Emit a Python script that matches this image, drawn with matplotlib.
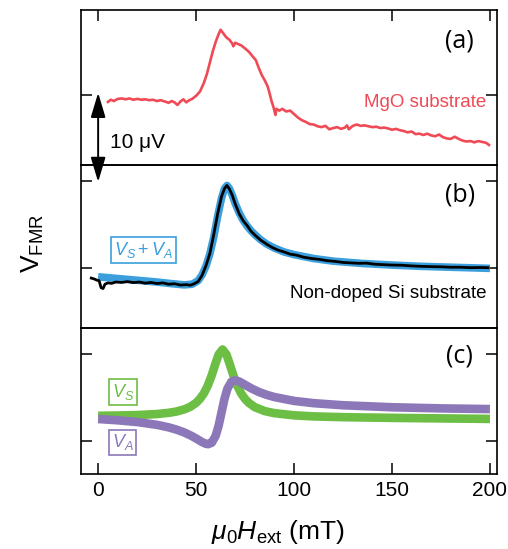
import matplotlib
matplotlib.use('Agg')
import matplotlib.pyplot as plt

plt.rcParams['font.family'] = ['Liberation Sans', 'DejaVu Sans']
plt.rcParams['mathtext.fontset'] = 'custom'
plt.rcParams['mathtext.rm'] = 'Liberation Sans'
plt.rcParams['mathtext.it'] = 'Liberation Sans:italic'

# (a) MgO substrate, measured V_FMR (uV) vs field (mT)
h_mgo = [5, 6.5, 8, 10, 12, 14, 16, 18, 20, 22, 24, 26, 28, 30, 32, 34, 36, 37.5, 39, 40.5,
         42, 43.5, 45, 46.5, 48, 50, 52, 54, 55.5, 57, 58.5, 60, 61.5, 62.5, 63.5, 64.5, 65.5,
         67, 68.5, 69, 70, 71.5, 73, 75, 77, 79, 80.5, 82, 83.5, 85, 86.5, 87.5, 88.5, 89.5,
         90.5, 91, 92.5, 94, 96, 98, 100, 102, 104, 106, 108, 110, 112, 114, 116, 118, 120,
         122, 124, 126, 127, 128, 130, 132, 134, 136, 138, 140, 142, 144, 146, 148, 150, 152,
         154, 156, 158, 160, 162, 164, 166, 168, 170, 172, 174, 176, 178, 180, 182, 184, 186,
         188, 190, 192, 194, 196, 198, 199.5]
v_mgo = [-0.8, -0.55, -0.7, -0.45, -0.4, -0.5, -0.4, -0.55, -0.45, -0.55, -0.5, -0.6, -0.55,
         -0.7, -0.6, -0.75, -0.9, -0.7, -0.85, -1.15, -0.75, -0.5, -0.85, -0.6, -0.45, -0.1,
         0.4, 1.4, 2.4, 3.7, 5.0, 6.1, 7.0, 7.5, 7.2, 6.9, 6.6, 6.35, 5.9, 5.6, 6.0, 5.85, 5.7,
         5.35, 4.95, 4.4, 4.0, 3.1, 2.3, 1.7, 1.0, 0.2, -0.7, -1.4, -2.3, -1.6, -1.8, -1.6,
         -1.9, -1.8, -2.2, -2.6, -2.9, -3.1, -3.35, -3.4, -3.6, -3.7, -3.55, -3.95, -3.8, -3.7,
         -3.9, -3.75, -3.5, -3.95, -3.55, -3.4, -3.55, -3.5, -3.6, -3.7, -3.65, -3.8, -3.75,
         -3.85, -4.0, -3.9, -4.05, -4.15, -4.3, -4.2, -4.5, -4.45, -4.6, -4.45, -4.65, -4.75,
         -4.55, -4.85, -5.0, -5.05, -4.8, -5.05, -5.25, -5.35, -5.3, -5.45, -5.3, -5.4, -5.5,
         -5.75]

# (b) non-doped Si substrate, measured data
h_si = [-3.5, -2, -0.5, 0.5, 1.5, 2.5, 3.5, 5, 7, 9, 12, 15, 18, 21, 24, 27, 30, 33, 36, 39,
        42, 45, 47, 49, 51, 53, 55, 57, 59, 61, 63, 64.5, 65.7, 67, 68.5, 70, 72, 74, 76, 78,
        80, 83, 86, 89, 92, 95, 98, 101, 105, 109, 113, 117, 121, 125, 129, 133, 137, 141,
        145, 150, 155, 160, 165, 170, 175, 180, 185, 190, 195, 199]
v_si = [-1.2, -1.3, -1.45, -1.5, -2.3, -2.4, -1.9, -1.75, -1.8, -1.65, -1.7, -1.6, -1.72,
        -1.65, -1.78, -1.7, -1.82, -1.75, -1.9, -1.85, -2.0, -1.95, -2.02, -1.85, -1.6, -0.9,
        0.2, 1.6, 3.8, 6.2, 8.2, 9.1, 9.45, 9.05, 8.3, 7.3, 6.2, 5.4, 4.85, 4.2, 3.75, 3.15,
        2.7, 2.3, 2.0, 1.8, 1.55, 1.45, 1.2, 1.05, 0.95, 0.8, 0.72, 0.6, 0.55, 0.5, 0.52, 0.4,
        0.35, 0.3, 0.28, 0.2, 0.15, 0.12, 0.1, 0.05, 0.05, 0.0, 0.02, 0.0]

# (b) fit V_S + V_A
h_fit = [0, 10, 20, 30, 38, 44, 48, 51, 53, 55, 57, 59, 61, 63, 64.5, 65.8, 67, 68.5, 70, 72,
         74, 76, 78, 80, 83, 86, 90, 95, 100, 110, 120, 135, 150, 165, 180, 200]
v_fit = [-1.05, -1.25, -1.45, -1.65, -1.85, -1.98, -1.9, -1.5, -0.85, 0.15, 1.55, 3.5, 5.9,
         8.0, 9.1, 9.45, 9.1, 8.3, 7.35, 6.3, 5.45, 4.8, 4.25, 3.8, 3.2, 2.72, 2.25, 1.8, 1.5,
         1.05, 0.75, 0.48, 0.3, 0.15, 0.05, -0.08]

# (c) symmetric and antisymmetric components
h_s = [0, 10, 20, 30, 36, 40, 44, 47, 50, 52, 54, 56, 58, 60, 61.5, 63.5, 65.5, 67, 69, 71,
       73, 75, 77, 80, 85, 90, 100, 110, 125, 150, 175, 200]
v_s = [2.86, 2.89, 2.94, 3.06, 3.20, 3.35, 3.60, 3.89, 4.35, 4.81, 5.45, 6.34, 7.53, 8.93,
       9.90, 10.48, 9.90, 8.92, 7.52, 6.33, 5.43, 4.79, 4.33, 3.85, 3.40, 3.16, 2.91, 2.79,
       2.70, 2.62, 2.56, 2.50]
h_a = [0, 10, 20, 30, 36, 40, 44, 48, 51, 53, 55, 56.2, 58, 60, 61.5, 63, 64.5, 66, 68, 69.8,
       72, 75, 78, 82, 86, 90, 100, 110, 125, 150, 175, 200]
v_a = [2.49, 2.34, 2.14, 1.82, 1.53, 1.27, 0.94, 0.51, 0.12, -0.15, -0.36, -0.40, -0.23,
       0.56, 1.72, 3.27, 4.82, 5.98, 6.77, 6.94, 6.80, 6.42, 6.03, 5.60, 5.27, 5.01, 4.57,
       4.31, 4.07, 3.84, 3.71, 3.63]

red = '#ef4a55'
blue = '#3a9fdc'
green = '#6dbe45'
purple = '#8c78b8'

fig = plt.figure(figsize=(5.08, 5.49), dpi=100)
left, width = 0.1604, 0.8176
ax_a = fig.add_axes([left, 0.6995, width, 0.2823])
ax_b = fig.add_axes([left, 0.4026, width, 0.2969])
ax_c = fig.add_axes([left, 0.1366, width, 0.2660])

xticks = [0, 50, 100, 150, 200]
for ax in (ax_a, ax_b, ax_c):
    ax.set_xlim(-8.5, 203.5)
    ax.set_xticks(xticks)
    ax.patch.set_visible(False)
    for s in ax.spines.values():
        s.set_linewidth(1.2)
    ax.tick_params(direction='in', length=8, width=1.1, left=True, right=True,
                   top=False, bottom=False, labelleft=False, labelbottom=False)

ax_a.set_ylim(-8.05, 9.77)
ax_a.set_yticks([0])
ax_a.tick_params(axis='x', top=True)
ax_b.set_ylim(-6.93, 11.8)
ax_b.set_yticks([0, 10])
ax_c.set_ylim(-3.83, 12.95)
ax_c.set_yticks([0, 10])
ax_c.tick_params(axis='x', bottom=True, labelbottom=True, labelsize=15, pad=5)
ax_c.set_xticklabels([str(t) for t in xticks])

# (a)
ax_a.plot(h_mgo, v_mgo, color=red, lw=1.9)
ax_a.text(0.975, 0.406, 'MgO substrate', transform=ax_a.transAxes, color=red,
          fontsize=13.5, ha='right', va='center')
ax_a.text(0.911, 0.797, '(a)', transform=ax_a.transAxes, fontsize=18,
          ha='center', va='center', family=['Open Sans', 'DejaVu Sans'])
ax_a.text(6, -5.5, '10 \u03bcV', fontsize=15, ha='left', va='center')

# 10 uV scale bar reaching down into panel (b)
arrow = ax_a.annotate('', xy=(0, 9.85), xycoords=ax_b.transData,
                      xytext=(0, 0.25), textcoords=ax_a.transData,
                      arrowprops=dict(arrowstyle='<|-|>,head_length=1.5,head_width=0.45',
                                      mutation_scale=10, color='k', lw=1.4,
                                      shrinkA=0, shrinkB=0),
                      annotation_clip=False)
ax_a.set_zorder(3)

# (b)
ax_b.plot(h_fit, v_fit, color=blue, lw=5.5, solid_capstyle='butt')
ax_b.plot(h_si, v_si, color='k', lw=2.0)
ax_b.text(0.975, -3.0, 'Non-doped Si substrate', transform=ax_b.get_yaxis_transform(),
          fontsize=13.5, ha='right', va='center')
ax_b.text(0.911, 0.816, '(b)', transform=ax_b.transAxes, fontsize=18,
          ha='center', va='center', family=['Open Sans', 'DejaVu Sans'])
ax_b.text(23.3, 2.03, '$V_S + V_A$', color=blue, fontsize=13, ha='center', va='center',
          bbox=dict(boxstyle='square,pad=0.15', fc='white', ec=blue, lw=1.2))

# (c)
ax_c.plot(h_s, v_s, color=green, lw=6.2, solid_capstyle='butt')
ax_c.plot(h_a, v_a, color=purple, lw=6.2, solid_capstyle='butt')
ax_c.text(0.911, 0.808, '(c)', transform=ax_c.transAxes, fontsize=18,
          ha='center', va='center', family=['Open Sans', 'DejaVu Sans'])
ax_c.text(12.6, 5.6, '$V_S$', color=green, fontsize=13, ha='center', va='center',
          bbox=dict(boxstyle='square,pad=0.15', fc='white', ec=green, lw=1.2))
ax_c.text(12.4, -0.2, '$V_A$', color=purple, fontsize=13, ha='center', va='center',
          bbox=dict(boxstyle='square,pad=0.15', fc='white', ec=purple, lw=1.2))

fig.text(0.547, 0.031, r'$\mu_0H_\mathrm{ext}$ (mT)', fontsize=19, ha='center', va='center')
fig.text(0.065, 0.557, r'$\mathrm{V}_\mathrm{FMR}$', fontsize=19, ha='center', va='center',
         rotation=90)

fig.savefig('out.png', dpi=100)
